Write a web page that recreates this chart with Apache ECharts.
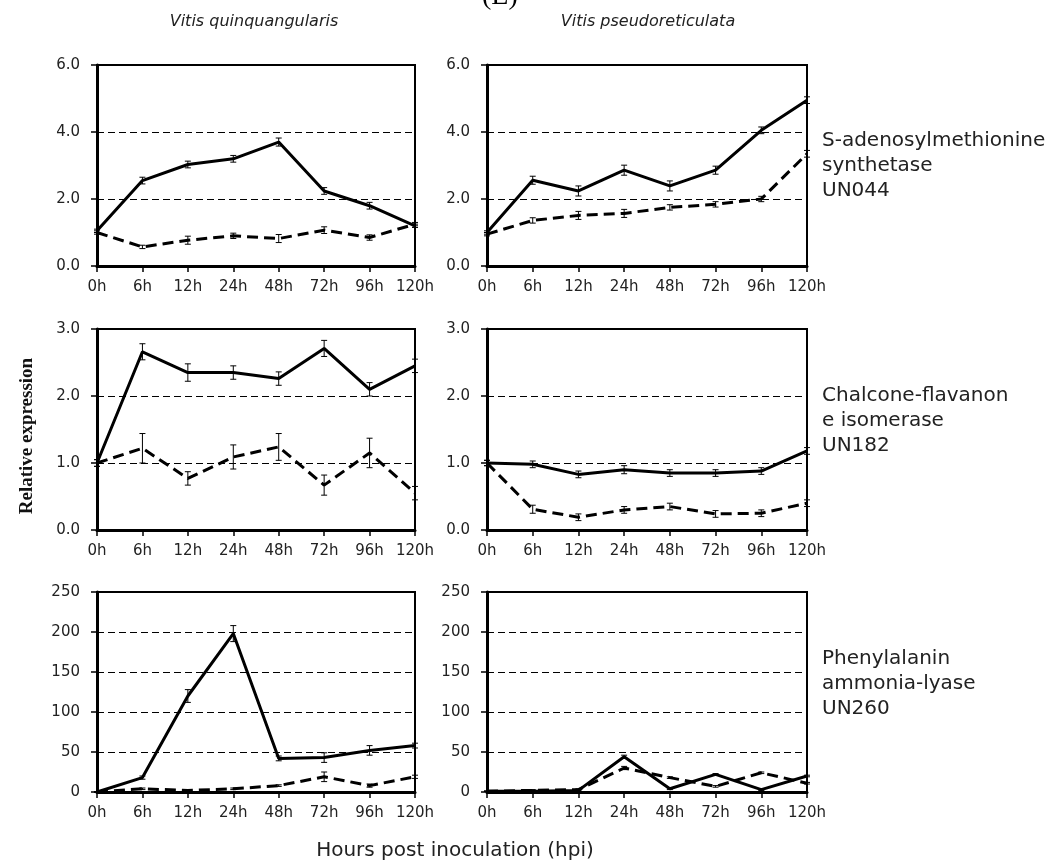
<!DOCTYPE html>
<html lang="en">
<head>
    <meta charset="UTF-8">
    <title>Relative expression</title>
    <script src="https://cdn.jsdelivr.net/npm/echarts/dist/echarts.min.js"></script>
    <style>
        html, body { margin: 0; padding: 0; background: #fff; }
        #chart1 { width: 1053px; height: 867px; }
    </style>
</head>
<body>
<div id="chart1"></div>
<script type="text/javascript">
    var hours = ['0h', '6h', '12h', '24h', '48h', '72h', '96h', '120h'];

    // UN044 S-adenosylmethionine synthetase
    var vqSamSolid = [1.05, 2.55, 3.03, 3.2, 3.7, 2.24, 1.8, 1.2];
    var vqSamSolidErr = [0.05, 0.1, 0.1, 0.1, 0.12, 0.1, 0.1, 0.05];
    var vqSamDash = [1.0, 0.57, 0.77, 0.9, 0.82, 1.07, 0.85, 1.25];
    var vqSamDashErr = [0.05, 0.05, 0.12, 0.08, 0.12, 0.1, 0.08, 0.05];
    var vpSamSolid = [1.0, 2.56, 2.24, 2.86, 2.39, 2.86, 4.05, 4.95];
    var vpSamSolidErr = [0.05, 0.12, 0.15, 0.15, 0.15, 0.12, 0.1, 0.1];
    var vpSamDash = [0.95, 1.36, 1.51, 1.57, 1.75, 1.84, 2.0, 3.35];
    var vpSamDashErr = [0.05, 0.08, 0.12, 0.12, 0.08, 0.08, 0.08, 0.1];

    // UN182 Chalcone-flavanone isomerase
    var vqChiSolid = [1.0, 2.66, 2.35, 2.35, 2.26, 2.71, 2.1, 2.45];
    var vqChiSolidErr = [0.05, 0.12, 0.13, 0.1, 0.1, 0.12, 0.1, 0.1];
    var vqChiDash = [1.0, 1.22, 0.77, 1.09, 1.24, 0.67, 1.15, 0.55];
    var vqChiDashErr = [0.05, 0.22, 0.1, 0.18, 0.2, 0.15, 0.22, 0.1];
    var vpChiSolid = [1.0, 0.98, 0.83, 0.9, 0.85, 0.85, 0.88, 1.18];
    var vpChiSolidErr = [0.04, 0.05, 0.05, 0.06, 0.05, 0.05, 0.05, 0.05];
    var vpChiDash = [1.0, 0.31, 0.19, 0.3, 0.35, 0.24, 0.25, 0.4];
    var vpChiDashErr = [0.04, 0.06, 0.05, 0.05, 0.05, 0.05, 0.05, 0.05];

    // UN260 Phenylalanine ammonia-lyase
    var vqPalSolid = [0, 18, 120, 198, 42, 43, 52, 58];
    var vqPalSolidErr = [0, 2, 8, 10, 3, 6, 6, 3];
    var vqPalDash = [0, 4, 2, 4, 8, 19, 8, 19];
    var vqPalDashErr = [0, 1, 1, 1, 1, 6, 2, 2];
    var vpPalSolid = [1, 1, 2, 44, 4, 22, 3, 20];
    var vpPalSolidErr = [0, 1, 1, 2, 1, 1, 1, 1];
    var vpPalDash = [1, 2, 3, 30, 18, 7, 24, 11];
    var vpPalDashErr = [0, 1, 1, 2, 1, 1, 1, 1];

    var speciesNames = ['Vitis quinquangularis', 'Vitis pseudoreticulata'];
    var geneLabels = [
        'S-adenosylmethionine\nsynthetase\nUN044',
        'Chalcone-flavanon\ne isomerase\nUN182',
        'Phenylalanin\nammonia-lyase\nUN260'
    ];
    var yMaxes = [6, 3, 250];
    var yIntervals = [2, 1, 50];
    var yDecimals = [1, 1, 0];

    var panels = [
        [vqSamSolid, vqSamSolidErr, vqSamDash, vqSamDashErr],
        [vpSamSolid, vpSamSolidErr, vpSamDash, vpSamDashErr],
        [vqChiSolid, vqChiSolidErr, vqChiDash, vqChiDashErr],
        [vpChiSolid, vpChiSolidErr, vpChiDash, vpChiDashErr],
        [vqPalSolid, vqPalSolidErr, vqPalDash, vqPalDashErr],
        [vpPalSolid, vpPalSolidErr, vpPalDash, vpPalDashErr]
    ];

    var colLeft = [97, 487];
    var colWidth = [318, 320];
    var rowTop = [65, 329, 592];
    var rowHeight = [201, 201, 200];
    var labelFont = 'DejaVu Sans';

    var chart1 = echarts.init(document.getElementById('chart1'));

    function errorBars(values, errs, idx) {
        var data = values.map(function (v, i) { return [i, v, errs[i]]; });
        return {
            type: 'custom',
            xAxisIndex: idx,
            yAxisIndex: idx,
            data: data,
            z: 5,
            silent: true,
            renderItem: function (params, api) {
                var x = api.value(0), y = api.value(1), e = api.value(2);
                var hi = api.coord([x, y + e]);
                var lo = api.coord([x, y - e]);
                var style = { stroke: '#000', lineWidth: 1 };
                return {
                    type: 'group',
                    children: [
                        { type: 'line', shape: { x1: hi[0], y1: hi[1], x2: lo[0], y2: lo[1] }, style: style },
                        { type: 'line', shape: { x1: hi[0] - 3, y1: hi[1], x2: hi[0] + 3, y2: hi[1] }, style: style },
                        { type: 'line', shape: { x1: lo[0] - 3, y1: lo[1], x2: lo[0] + 3, y2: lo[1] }, style: style }
                    ]
                };
            }
        };
    }

    var grids = [], xAxes = [], yAxes = [], series = [];
    panels.forEach(function (p, idx) {
        var row = Math.floor(idx / 2), col = idx % 2;
        grids.push({
            left: colLeft[col], top: rowTop[row], width: colWidth[col], height: rowHeight[row],
            show: true, borderColor: '#000', borderWidth: 2, backgroundColor: 'transparent'
        });
        xAxes.push({
            type: 'category', gridIndex: idx, data: hours, boundaryGap: false,
            axisLine: { lineStyle: { color: '#000', width: 3 } },
            axisTick: { show: true, length: 6, lineStyle: { color: '#000', width: 1.5 } },
            axisLabel: { interval: 0, color: '#222', fontFamily: labelFont, fontSize: 15, margin: 14 }
        });
        yAxes.push({
            type: 'value', gridIndex: idx, min: 0, max: yMaxes[row], interval: yIntervals[row],
            axisLine: { show: true, lineStyle: { color: '#000', width: 3 } },
            axisTick: { show: true, length: 6, lineStyle: { color: '#000', width: 1.5 } },
            axisLabel: {
                color: '#222', fontFamily: labelFont, fontSize: 15, margin: 17,
                formatter: function (v) { return v.toFixed(yDecimals[row]); }
            },
            splitLine: { show: true, lineStyle: { color: '#000', width: 1, type: [7, 4] } }
        });
        series.push({
            type: 'line', xAxisIndex: idx, yAxisIndex: idx, data: p[0], symbol: 'none',
            lineStyle: { color: '#000', width: 3 }, z: 4
        });
        series.push({
            type: 'line', xAxisIndex: idx, yAxisIndex: idx, data: p[2], symbol: 'none',
            lineStyle: { color: '#000', width: 3, type: [11, 6] }, z: 4
        });
        series.push(errorBars(p[0], p[1], idx));
        series.push(errorBars(p[2], p[3], idx));
    });

    var graphics = [
        { type: 'text', left: 482, top: -17, style: { text: '(E)', font: '28px "Liberation Serif"', fill: '#000' } },
        { type: 'text', x: 254, y: 22, style: { text: speciesNames[0], font: 'italic 16px "DejaVu Sans"', fill: '#222', align: 'center', verticalAlign: 'middle' } },
        { type: 'text', x: 648, y: 22, style: { text: speciesNames[1], font: 'italic 16px "DejaVu Sans"', fill: '#222', align: 'center', verticalAlign: 'middle' } },
        { type: 'text', x: 455, y: 851, style: { text: 'Hours post inoculation (hpi)', font: '20px "DejaVu Sans"', fill: '#222', align: 'center', verticalAlign: 'middle' } },
        { type: 'text', x: 27, y: 436, rotation: Math.PI / 2, style: { text: 'Relative expression', font: 'bold 19px "Liberation Serif"', fill: '#111', align: 'center', verticalAlign: 'middle' } }
    ];
    var geneTops = [128, 383, 646];
    geneLabels.forEach(function (t, i) {
        graphics.push({
            type: 'text', x: 822, y: geneTops[i],
            style: { text: t, font: '20px "DejaVu Sans"', lineHeight: 25, fill: '#222' }
        });
    });

    var option = {
        backgroundColor: '#fff',
        animation: false,
        grid: grids,
        xAxis: xAxes,
        yAxis: yAxes,
        series: series,
        graphic: graphics
    };
    chart1.setOption(option);
</script>
</body>
</html>
